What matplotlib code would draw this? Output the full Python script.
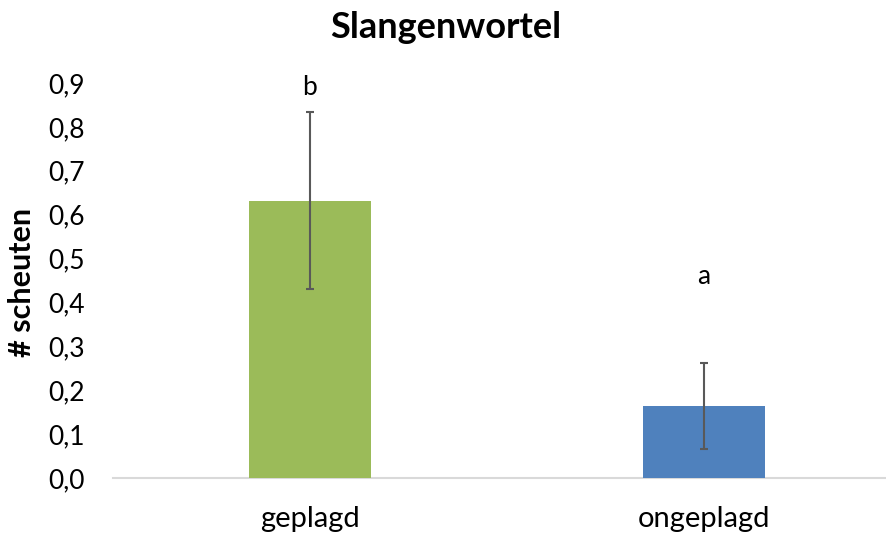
import matplotlib
matplotlib.use("Agg")
import matplotlib.pyplot as plt

categories = ["geplagd", "ongeplagd"]
values = [0.632, 0.164]
errors = [0.202, 0.098]
letters = ["b", "a"]
letter_y = [0.89, 0.458]
colors = ["#9BBB59", "#4F81BD"]
yticks = [0.0, 0.1, 0.2, 0.3, 0.4, 0.5, 0.6, 0.7, 0.8, 0.9]

plt.rcParams['font.family'] = ['Lato', 'DejaVu Sans']

W, H = 887, 539
fig = plt.figure(figsize=(W / 100, H / 100), dpi=100)
left, right = 113, 887
bottom, top = 478, 83
ax = fig.add_axes([left / W, 1 - bottom / H, (right - left) / W, (bottom - top) / H])

x = list(range(len(categories)))
ax.bar(x, values, width=0.31, color=colors, zorder=2)
ax.errorbar(x, values, yerr=errors, fmt='none', ecolor='#595959', elinewidth=1.5,
            capsize=3, capthick=1.5, zorder=3)
for xi, ly, t in zip(x, letter_y, letters):
    ax.text(xi, ly, t, ha='center', va='center', fontsize=19, color='black')

ax.set_xlim(-0.5, (right - left) / 394 - 0.5)
ax.set_ylim(0, 0.9)
ax.set_yticks(yticks)
ax.set_yticklabels([f"{v:.1f}".replace('.', ',') for v in yticks], fontsize=19)
ax.set_xticks(x)
ax.set_xticklabels(categories, fontsize=21)
ax.tick_params(axis='both', length=0)
ax.tick_params(axis='y', pad=20)
ax.tick_params(axis='x', pad=20)
for s in ['top', 'right', 'left']:
    ax.spines[s].set_visible(False)
ax.spines['bottom'].set_color('#D9D9D9')
ax.spines['bottom'].set_linewidth(1.5)
ax.spines['bottom'].set_zorder(1)

fig.text(446 / W, 1 - 27 / H, "Slangenwortel", ha='center', va='center',
         fontsize=26, fontweight='bold')
fig.text(22 / W, 1 - 282 / H, "# scheuten", ha='center', va='center',
         rotation=90, fontsize=22, fontweight='bold')

fig.savefig("out.png", dpi=100)
